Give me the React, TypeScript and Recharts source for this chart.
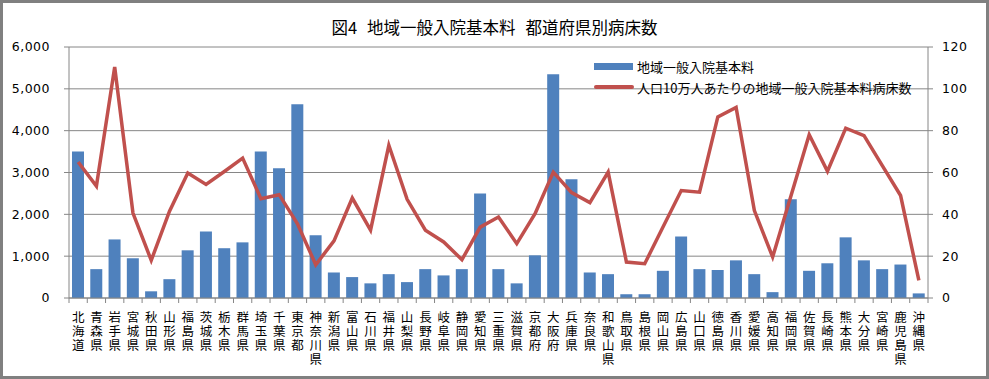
import React from 'react';
import { ComposedChart, Bar, Line, XAxis, YAxis, CartesianGrid, Legend } from 'recharts';

const prefectures = ['北海道','青森県','岩手県','宮城県','秋田県','山形県','福島県','茨城県','栃木県','群馬県','埼玉県','千葉県','東京都','神奈川県','新潟県','富山県','石川県','福井県','山梨県','長野県','岐阜県','静岡県','愛知県','三重県','滋賀県','京都府','大阪府','兵庫県','奈良県','和歌山県','鳥取県','島根県','岡山県','広島県','山口県','徳島県','香川県','愛媛県','高知県','福岡県','佐賀県','長崎県','熊本県','大分県','宮崎県','鹿児島県','沖縄県'];

const beds = [3500,690,1400,950,160,450,1140,1590,1190,1330,3500,3100,4630,1500,610,500,350,570,380,690,540,690,2500,690,350,1020,5350,2840,610,570,90,90,650,1470,690,670,900,570,140,2360,650,830,1450,900,690,800,110];

const rates = [65.0,53.5,110.4,40.6,18.0,41.5,59.8,54.3,60.5,66.9,47.5,49.4,35.5,15.9,27.3,47.8,32.4,73.0,47.2,32.4,26.8,18.3,33.9,38.7,26.0,40.3,60.2,50.4,45.6,60.2,17.2,16.4,33.9,51.4,50.6,86.6,91.1,41.8,19.6,48.8,78.1,60.6,81.2,77.6,63.3,49.0,8.4];

const leftTicks = [0,1000,2000,3000,4000,5000,6000];
const rightTicks = [0,20,40,60,80,100,120];

const title = ['図4', '地域一般入院基本料', '都道府県別病床数'];
const seriesNames = ['地域一般入院基本料', '人口10万人あたりの地域一般入院基本料病床数'];

const data = prefectures.map((name, i) => ({ name, beds: beds[i], rate: rates[i] }));

const W = 989;
const H = 379;
const M = { top: 47, right: 0, bottom: 6, left: 0 };
const LEFT_W = 69;
const RIGHT_W = 61;
const X_H = 75;
const PLOT_BOTTOM = H - M.bottom - X_H;
const STEP = (W - LEFT_W - RIGHT_W) / prefectures.length;

const BLUE = '#4F81BD';
const RED = '#C0504D';
const GRID = '#868686';
const JP = '"Noto Sans CJK JP", "Noto Sans", sans-serif';
const NUM = '"DejaVu Sans", sans-serif';

const XTick = (props: any) => {
  const { x, payload, index } = props;
  const last = index === prefectures.length - 1;
  return (
    <g>
      <line x1={x - STEP / 2} x2={x - STEP / 2} y1={PLOT_BOTTOM} y2={PLOT_BOTTOM + 5} stroke={GRID} />
      {last && <line x1={x + STEP / 2} x2={x + STEP / 2} y1={PLOT_BOTTOM} y2={PLOT_BOTTOM + 5} stroke={GRID} />}
      <text
        x={x}
        y={PLOT_BOTTOM + 12.5}
        fontFamily={JP}
        fontSize={12.5}
        fill="#000"
        style={{ writingMode: 'vertical-rl', letterSpacing: 1.8 }}
      >
        {payload.value}
      </text>
    </g>
  );
};

const LegendContent = () => (
  <div style={{ fontFamily: JP, fontSize: 13, color: '#000', whiteSpace: 'nowrap' }}>
    <div style={{ display: 'flex', alignItems: 'center', height: 21 }}>
      <div style={{ width: 39, height: 7, background: BLUE, marginRight: 4 }} />
      <span>{seriesNames[0]}</span>
    </div>
    <div style={{ display: 'flex', alignItems: 'center', height: 21 }}>
      <div style={{ width: 40, height: 3.5, background: RED, marginRight: 3, borderRadius: 2 }} />
      <span>{seriesNames[1]}</span>
    </div>
  </div>
);

export default function App() {
  return (
    <div style={{ position: 'absolute', left: 0, top: 0, width: W, height: H, background: '#fff' }}>
      <ComposedChart width={W} height={H} data={data} margin={M}>
        <CartesianGrid vertical={false} stroke={GRID} yAxisId="left" />
        <XAxis
          dataKey="name"
          height={X_H}
          interval={0}
          tickLine={false}
          axisLine={{ stroke: GRID }}
          tick={<XTick />}
          yAxisId="left"
        />
        <YAxis
          yAxisId="left"
          orientation="left"
          width={LEFT_W}
          domain={[0, 6000]}
          ticks={leftTicks}
          interval={0}
          tickSize={5}
          tickMargin={14}
          axisLine={{ stroke: GRID }}
          tickLine={{ stroke: GRID }}
          tickFormatter={(v: number) => v.toLocaleString('en-US')}
          tick={{ fill: '#000', fontSize: 12.5, fontFamily: NUM, letterSpacing: 0.5 }}
        />
        <YAxis
          yAxisId="right"
          orientation="right"
          width={RIGHT_W}
          domain={[0, 120]}
          ticks={rightTicks}
          interval={0}
          tickSize={5}
          tickMargin={9}
          axisLine={{ stroke: GRID }}
          tickLine={{ stroke: GRID }}
          tick={{ fill: '#000', fontSize: 12.5, fontFamily: NUM, letterSpacing: 0.5 }}
        />
        <Legend
          layout="vertical"
          align="center"
          verticalAlign="middle"
          content={<LegendContent />}
          wrapperStyle={{ left: 594, top: 55.5, width: 320, height: 42 }}
        />
        <Bar yAxisId="left" dataKey="beds" name={seriesNames[0]} fill={BLUE} barSize={12} isAnimationActive={false} />
        <Line
          yAxisId="right"
          dataKey="rate"
          name={seriesNames[1]}
          type="linear"
          stroke={RED}
          strokeWidth={3.5}
          dot={false}
          activeDot={false}
          isAnimationActive={false}
        />
      </ComposedChart>
      <div
        style={{
          position: 'absolute', left: 0, top: 16.5, width: W, textAlign: 'center',
          fontFamily: JP, fontSize: 16.5, lineHeight: '20px', color: '#000', whiteSpace: 'nowrap',
        }}
      >
        <span>{title[0]}</span>
        <span style={{ marginLeft: 10 }}>{title[1]}</span>
        <span style={{ marginLeft: 10 }}>{title[2]}</span>
      </div>
      <div
        style={{
          position: 'absolute', left: 0, top: 0, width: W, height: H, boxSizing: 'border-box',
          border: '3px solid #808080', pointerEvents: 'none',
        }}
      />
    </div>
  );
}
